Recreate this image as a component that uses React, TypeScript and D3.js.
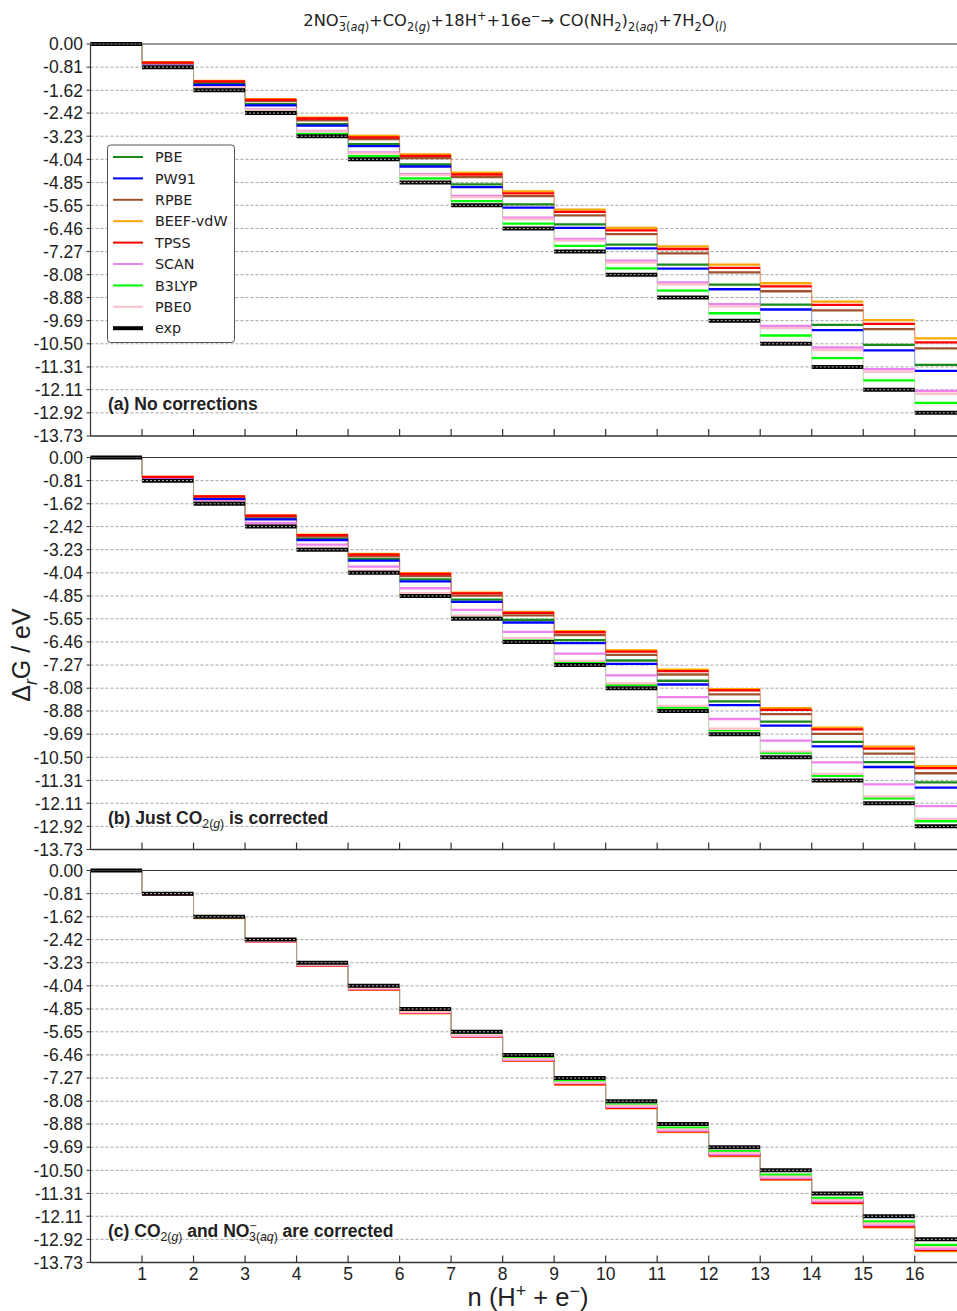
import React from 'react';
import * as d3 from 'd3';

// step index n (number of H+ + e- transferred)
const nSteps = [0, 1, 2, 3, 4, 5, 6, 7, 8, 9, 10, 11, 12, 13, 14, 15, 16];
const xTickLabels = ['1', '2', '3', '4', '5', '6', '7', '8', '9', '10', '11', '12', '13', '14', '15', '16'];
const yTickLabels = ['0.00', '-0.81', '-1.62', '-2.42', '-3.23', '-4.04', '-4.85', '-5.65', '-6.46',
  '-7.27', '-8.08', '-8.88', '-9.69', '-10.50', '-11.31', '-12.11', '-12.92', '-13.73'];

const seriesNames = ['PBE', 'PW91', 'RPBE', 'BEEF-vdW', 'TPSS', 'SCAN', 'B3LYP', 'PBE0', 'exp'];
const seriesColors = ['#1a8a1a', '#0000ff', '#a0522d', '#ffa500', '#ff0000', '#ee82ee', '#00ff00', '#ffc0cb', '#000000'];

const expG = [0, -0.81, -1.62, -2.42, -3.23, -4.04, -4.85, -5.65, -6.46, -7.27, -8.08, -8.88, -9.69, -10.50, -11.31, -12.11, -12.92];

// (a) no corrections
const pbeA = [0, -0.70, -1.41, -2.11, -2.81, -3.51, -4.22, -4.92, -5.62, -6.32, -7.03, -7.73, -8.43, -9.13, -9.84, -10.54, -11.24];
const pw91A = [0, -0.72, -1.43, -2.15, -2.86, -3.58, -4.29, -5.01, -5.73, -6.44, -7.16, -7.87, -8.59, -9.30, -10.02, -10.73, -11.45];
const rpbeA = [0, -0.67, -1.33, -2.00, -2.67, -3.33, -4.00, -4.66, -5.33, -6.00, -6.66, -7.33, -8.00, -8.66, -9.33, -9.99, -10.66];
const beefA = [0, -0.64, -1.29, -1.93, -2.58, -3.22, -3.87, -4.51, -5.16, -5.80, -6.44, -7.09, -7.73, -8.38, -9.02, -9.67, -10.31];
const tpssA = [0, -0.65, -1.31, -1.96, -2.61, -3.27, -3.92, -4.57, -5.23, -5.88, -6.53, -7.18, -7.84, -8.49, -9.14, -9.80, -10.45];
const scanA = [0, -0.76, -1.52, -2.28, -3.04, -3.80, -4.56, -5.32, -6.08, -6.83, -7.59, -8.35, -9.11, -9.87, -10.63, -11.39, -12.15];
const b3lypA = [0, -0.79, -1.57, -2.36, -3.14, -3.93, -4.71, -5.50, -6.29, -7.07, -7.86, -8.64, -9.43, -10.21, -11.00, -11.78, -12.57];
const pbe0A = [0, -0.77, -1.53, -2.30, -3.06, -3.83, -4.59, -5.36, -6.13, -6.89, -7.66, -8.42, -9.19, -9.95, -10.72, -11.48, -12.25];

// (b) just CO2(g) corrected
const pbeB = [0, -0.71, -1.42, -2.13, -2.85, -3.56, -4.27, -4.98, -5.69, -6.40, -7.11, -7.82, -8.54, -9.25, -9.96, -10.67, -11.38];
const pw91B = [0, -0.72, -1.45, -2.17, -2.89, -3.61, -4.34, -5.06, -5.78, -6.50, -7.23, -7.95, -8.67, -9.39, -10.12, -10.84, -11.56];
const rpbeB = [0, -0.69, -1.38, -2.07, -2.77, -3.46, -4.15, -4.84, -5.53, -6.22, -6.91, -7.60, -8.30, -8.99, -9.68, -10.37, -11.06];
const beefB = [0, -0.68, -1.35, -2.03, -2.70, -3.38, -4.05, -4.73, -5.41, -6.08, -6.76, -7.43, -8.11, -8.78, -9.46, -10.13, -10.81];
const tpssB = [0, -0.68, -1.36, -2.04, -2.72, -3.40, -4.08, -4.76, -5.44, -6.12, -6.80, -7.48, -8.16, -8.84, -9.52, -10.20, -10.88];
const scanB = [0, -0.76, -1.53, -2.29, -3.05, -3.82, -4.58, -5.34, -6.11, -6.87, -7.63, -8.39, -9.16, -9.92, -10.68, -11.45, -12.21];
const b3lypB = [0, -0.80, -1.59, -2.39, -3.19, -3.98, -4.78, -5.57, -6.37, -7.17, -7.96, -8.76, -9.56, -10.35, -11.15, -11.94, -12.74];
const pbe0B = [0, -0.79, -1.58, -2.37, -3.17, -3.96, -4.75, -5.54, -6.33, -7.12, -7.91, -8.70, -9.50, -10.29, -11.08, -11.87, -12.66];

// (c) CO2(g) and NO3-(aq) corrected
const pbeC = [0, -0.82, -1.65, -2.47, -3.30, -4.12, -4.95, -5.77, -6.60, -7.42, -8.24, -9.07, -9.89, -10.72, -11.54, -12.37, -13.19];
const pw91C = [0, -0.83, -1.66, -2.48, -3.31, -4.14, -4.97, -5.80, -6.63, -7.45, -8.28, -9.11, -9.94, -10.77, -11.59, -12.42, -13.25];
const rpbeC = [0, -0.83, -1.66, -2.49, -3.33, -4.16, -4.99, -5.82, -6.65, -7.48, -8.31, -9.14, -9.98, -10.81, -11.64, -12.47, -13.30];
const beefC = [0, -0.83, -1.67, -2.50, -3.33, -4.17, -5.00, -5.83, -6.67, -7.50, -8.33, -9.16, -10.00, -10.83, -11.66, -12.50, -13.33];
const tpssC = [0, -0.83, -1.66, -2.49, -3.33, -4.16, -4.99, -5.82, -6.65, -7.48, -8.31, -9.14, -9.98, -10.81, -11.64, -12.47, -13.30];
const scanC = [0, -0.83, -1.66, -2.48, -3.31, -4.14, -4.97, -5.80, -6.63, -7.45, -8.28, -9.11, -9.94, -10.77, -11.59, -12.42, -13.25];
const b3lypC = [0, -0.82, -1.64, -2.46, -3.28, -4.10, -4.92, -5.74, -6.56, -7.37, -8.19, -9.01, -9.83, -10.65, -11.47, -12.29, -13.11];
const pbe0C = [0, -0.82, -1.65, -2.47, -3.30, -4.12, -4.95, -5.77, -6.60, -7.42, -8.24, -9.07, -9.89, -10.72, -11.54, -12.37, -13.19];

const panelData = [
  [pbeA, pw91A, rpbeA, beefA, tpssA, scanA, b3lypA, pbe0A, expG],
  [pbeB, pw91B, rpbeB, beefB, tpssB, scanB, b3lypB, pbe0B, expG],
  [pbeC, pw91C, rpbeC, beefC, tpssC, scanC, b3lypC, pbe0C, expG],
];

const W = 957, H = 1311;
const LEFT = 90.5, RIGHT = 957, PH = 392;
const panelTops = [44, 457.5, 870.5];
const tickFont = '"Liberation Sans", Arial, sans-serif';
const dejavu = '"DejaVu Sans", sans-serif';

const x = d3.scaleLinear().domain([0, 16.82]).range([LEFT, RIGHT]);

// renders text pieces with sub/superscripts as flat tspans
function rich(segs, size) {
  let cur = 0;
  return segs.map((s, i) => {
    const k = s.k || 'n';
    const target = k === 'sub' ? size * 0.28 : k === 'sup' ? -size * 0.36 : 0;
    const dy = target - cur;
    cur = target;
    return (
      <tspan key={i} dy={dy} dx={s.dx || 0} fontSize={k === 'n' ? size : size * 0.7}
        fontStyle={s.it ? 'italic' : 'normal'} fontWeight={s.w || undefined}>{s.t}</tspan>
    );
  });
}

function Panel({ top, data, idx }) {
  const y = d3.scaleLinear().domain([0, -13.73]).range([top, top + PH]);
  const bottom = top + PH;
  const yTicks = yTickLabels.map(Number);

  return (
    <g>
      {/* grid */}
      {yTicks.slice(1, -1).map((t, i) => (
        <line key={'g' + i} x1={LEFT} x2={RIGHT} y1={y(t)} y2={y(t)}
          stroke="#9a9a9a" strokeWidth={0.9} strokeDasharray="3,2" />
      ))}
      {/* connectors */}
      {data.map((vals, s) => nSteps.slice(1).map(n => (
        <line key={'v' + s + '-' + n} x1={x(n)} x2={x(n)} y1={y(vals[n - 1])} y2={y(vals[n])}
          stroke={s === 8 ? '#999' : seriesColors[s]} strokeWidth={1} strokeOpacity={0.3} />
      )))}
      {/* steps */}
      {data.map((vals, s) => nSteps.map(n => (
        <g key={'h' + s + '-' + n}>
          <line x1={x(n)} x2={x(n + 1)} y1={y(vals[n])} y2={y(vals[n])}
            stroke={seriesColors[s]} strokeWidth={s === 8 ? 4 : 2.3} />
          {s === 8 && (
            <line x1={x(n)} x2={x(n + 1)} y1={y(vals[n])} y2={y(vals[n])}
              stroke="#fff" strokeWidth={0.9} strokeOpacity={0.85} strokeDasharray="2,2" />
          )}
        </g>
      )))}
      {/* spines */}
      <line x1={LEFT} x2={RIGHT} y1={top} y2={top} stroke="#333" strokeWidth={1.2} />
      <line x1={LEFT} x2={RIGHT} y1={bottom} y2={bottom} stroke="#333" strokeWidth={1.5} />
      <line x1={LEFT} x2={LEFT} y1={top} y2={bottom} stroke="#333" strokeWidth={1.2} />
      {xTickLabels.map((l, i) => (
        <line key={'xt' + i} x1={x(+l)} x2={x(+l)} y1={bottom} y2={bottom - 7} stroke="#333" strokeWidth={1.2} />
      ))}
      {yTicks.map((t, i) => (
        <g key={'yt' + i}>
          <line x1={LEFT - 4} x2={LEFT} y1={y(t)} y2={y(t)} stroke="#333" strokeWidth={1} />
          <text x={83} y={y(t)} dy="0.36em" textAnchor="end" fontFamily={tickFont} fontSize={17.5} fill="#222">
            {yTickLabels[i]}
          </text>
        </g>
      ))}
      {idx === 2 && xTickLabels.map((l, i) => (
        <text key={'xl' + i} x={x(+l)} y={bottom + 17} textAnchor="middle" fontFamily={tickFont} fontSize={17.5} fill="#222">{l}</text>
      ))}
      <text x={108} y={bottom - 26} fontFamily={tickFont} fontSize={17.5} fontWeight="bold" fill="#222">
        {idx === 0 && rich([{ t: '(a) No corrections' }], 17.5)}
        {idx === 1 && rich([{ t: '(b) Just CO' }, { t: '2(', k: 'sub', w: 'normal' }, { t: 'g', k: 'sub', it: true, w: 'normal' },
          { t: ')', k: 'sub', w: 'normal' }, { t: ' is corrected' }], 17.5)}
        {idx === 2 && rich([{ t: '(c) CO' }, { t: '2(', k: 'sub', w: 'normal' }, { t: 'g', k: 'sub', it: true, w: 'normal' },
          { t: ')', k: 'sub', w: 'normal' }, { t: ' and NO' }, { t: '−', k: 'sup', w: 'normal' },
          { t: '3(', k: 'sub', dx: -7.5, w: 'normal' }, { t: 'aq', k: 'sub', it: true, w: 'normal' }, { t: ')', k: 'sub', w: 'normal' },
          { t: ' are corrected' }], 17.5)}
      </text>
    </g>
  );
}

function Legend() {
  const rowY = (i) => 157 + i * 21.4;
  return (
    <g>
      <rect x={107.5} y={145} width={127} height={197.5} rx={3} fill="#fff" stroke="#555" strokeWidth={1} />
      {seriesNames.map((name, i) => (
        <g key={name}>
          <line x1={113} x2={143} y1={rowY(i)} y2={rowY(i)} stroke={seriesColors[i]} strokeWidth={i === 8 ? 4 : 2} />
          <text x={155} y={rowY(i)} dy="0.36em" fontFamily={dejavu} fontSize={14.3} fill="#222">{name}</text>
        </g>
      ))}
    </g>
  );
}

export default function App() {
  return (
    <div style={{ position: 'absolute', left: 0, top: 0 }}>
      <svg width={W} height={H} style={{ display: 'block', background: '#fff' }}>
        <text x={515} y={26} textAnchor="middle" fontFamily={dejavu} fontSize={16.3} fill="#222">
          {rich([
            { t: '2NO' }, { t: '−', k: 'sup' }, { t: '3(', k: 'sub', dx: -9.5 }, { t: 'aq', k: 'sub', it: true }, { t: ')', k: 'sub' },
            { t: '+CO' }, { t: '2(', k: 'sub' }, { t: 'g', k: 'sub', it: true }, { t: ')', k: 'sub' },
            { t: '+18H' }, { t: '+', k: 'sup' }, { t: '+16e' }, { t: '−', k: 'sup' },
            { t: '→ CO(NH' }, { t: '2', k: 'sub' }, { t: ')' }, { t: '2(', k: 'sub' }, { t: 'aq', k: 'sub', it: true }, { t: ')', k: 'sub' },
            { t: '+7H' }, { t: '2', k: 'sub' }, { t: 'O' }, { t: '(', k: 'sub' }, { t: 'l', k: 'sub', it: true }, { t: ')', k: 'sub' },
          ], 16.3)}
        </text>
        {panelTops.map((top, i) => (
          <Panel key={i} top={top} data={panelData[i]} idx={i} />
        ))}
        <Legend />
        <text transform="translate(30,655) rotate(-90)" textAnchor="middle" fontFamily={tickFont} fontSize={25} fill="#222">
          {rich([{ t: 'Δ' }, { t: 'r', k: 'sub', it: true }, { t: 'G / eV' }], 25)}
        </text>
        <text x={528} y={1306} textAnchor="middle" fontFamily={tickFont} fontSize={25.5} fill="#222">
          {rich([{ t: 'n (H' }, { t: '+', k: 'sup' }, { t: ' + e' }, { t: '−', k: 'sup' }, { t: ')' }], 25.5)}
        </text>
      </svg>
    </div>
  );
}
